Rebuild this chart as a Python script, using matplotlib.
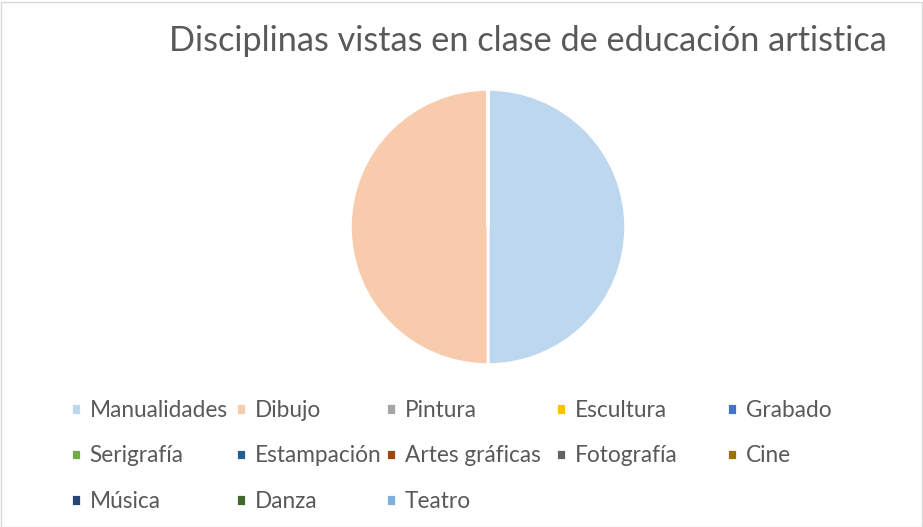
import matplotlib.pyplot as plt
from matplotlib.patches import Rectangle

labels = ['Manualidades', 'Dibujo', 'Pintura', 'Escultura', 'Grabado',
          'Serigrafía', 'Estampación', 'Artes gráficas', 'Fotografía', 'Cine',
          'Música', 'Danza', 'Teatro']
values = [1, 1, 0, 0, 0, 0, 0, 0, 0, 0, 0, 0, 0]
colors = ['#BDD7EE', '#F8CBAD', '#A5A5A5', '#FFC000', '#4472C4',
          '#70AD47', '#255E91', '#9E480E', '#636363', '#997300',
          '#264478', '#43682B', '#7CAFDD']

plt.rcParams['font.family'] = ['Lato', 'DejaVu Sans']
W, H = 923, 527
fig = plt.figure(figsize=(W / 100, H / 100), dpi=100)
fig.patches.append(Rectangle((0.5 / W, 0.5 / H), 1 - 2 / W, 1 - 2 / H, transform=fig.transFigure,
                             fill=False, edgecolor='#D9D9D9', linewidth=1))

cx, cy, r = 488, 227, 139
ax = fig.add_axes([(cx - r) / W, (H - cy - r) / H, 2 * r / W, 2 * r / H])
wedges, _ = ax.pie(values, colors=colors, startangle=90, counterclock=False,
                   wedgeprops=dict(edgecolor='white', linewidth=2))
ax.set_xlim(-1.01, 1.01)
ax.set_ylim(-1.01, 1.01)

fig.text(528 / W, 1 - 41 / H, 'Disciplinas vistas en clase de educación artistica',
         ha='center', va='center', fontsize=24.7, color='#595959')

# legend: one legend per column so column positions match
col_x = [71, 236, 386, 556, 727]
for c in range(5):
    idx = [i for i in range(c, len(labels), 5)]
    leg = fig.legend([wedges[i] for i in idx], [labels[i] for i in idx],
                     loc='upper left', bbox_to_anchor=(col_x[c] / W, 1 - 400 / H),
                     frameon=False, fontsize=16.3, labelcolor='#595959',
                     handlelength=0.42, handleheight=0.42, handletextpad=0.4,
                     labelspacing=1.08, borderpad=0, borderaxespad=0)

fig.savefig('out.png', dpi=100)
